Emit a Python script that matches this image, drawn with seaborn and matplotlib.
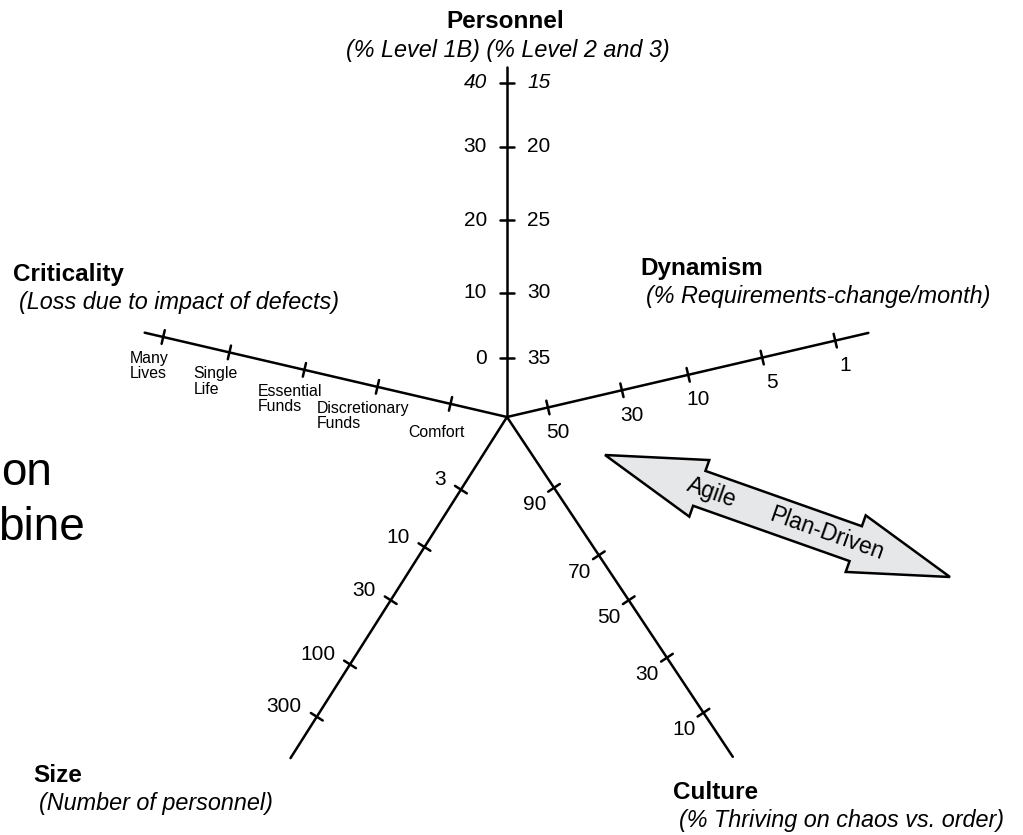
"""Agile vs plan-driven home grounds: five-axis polar chart."""

import numpy as np
import pandas as pd
import matplotlib.pyplot as plt
import seaborn as sns


# ---- chart data -------------------------------------------------------------
personnel_1b = ["40", "30", "20", "10", "0"]
personnel_23 = ["15", "20", "25", "30", "35"]
personnel_pos = [334, 270, 197, 124, 59]

dynamism_ticks = ["1", "5", "10", "30", "50"]
dynamism_pos = [337, 262, 186, 118, 42]

criticality_ticks = ["Many\nLives", "Single\nLife", "Essential\nFunds", "Discretionary\nFunds", "Comfort"]
criticality_pos = [353, 285, 208, 133, 58]

size_ticks = ["3", "10", "30", "100", "300"]
size_pos = [86, 154, 217, 293, 355]

culture_ticks = ["90", "70", "50", "30", "10"]
culture_pos = [85, 166, 220, 289, 355]

# ---- layout (pixels, origin top-left) ---------------------------------------
W, H = 1023, 835
CENTER = np.array([507.0, 417.0])
FONT = "Liberation Sans"

# angle (deg, counter-clockwise from east) and drawn length of each axis
axes_geom = {
    "Personnel": (90.0, 350),
    "Dynamism": (13.1, 371),
    "Criticality": (166.9, 372),
    "Size": (237.6, 404),
    "Culture": (303.6, 408),
}


def along(name, r):
    ang = np.deg2rad(axes_geom[name][0])
    return CENTER + r * np.array([np.cos(ang), -np.sin(ang)])


def build_segments():
    rows = []
    seg = 0
    tick_sets = {
        "Personnel": personnel_pos,
        "Dynamism": dynamism_pos,
        "Criticality": criticality_pos,
        "Size": size_pos,
        "Culture": culture_pos,
    }
    for name, (angle, length) in axes_geom.items():
        end = along(name, length)
        rows += [(seg, CENTER[0], CENTER[1]), (seg, end[0], end[1])]
        seg += 1
        ang = np.deg2rad(angle)
        perp = 7 * np.array([np.sin(ang), np.cos(ang)])
        for r in tick_sets[name]:
            p = along(name, r)
            rows += [(seg, *(p - perp)), (seg, *(p + perp))]
            seg += 1
    return pd.DataFrame(rows, columns=["seg", "x", "y"])


def double_arrow(start, end, shaft_hw, head_hw, head_len):
    p0, p1 = np.array(start, float), np.array(end, float)
    u = (p1 - p0) / np.linalg.norm(p1 - p0)
    n = np.array([-u[1], u[0]])
    a, b = p0 + u * head_len, p1 - u * head_len
    return np.array([
        p0, a + n * head_hw, a + n * shaft_hw, b + n * shaft_hw, b + n * head_hw,
        p1, b - n * head_hw, b - n * shaft_hw, a - n * shaft_hw, a - n * head_hw,
    ])


def main() -> None:
    sns.set_theme(style="white")
    plt.rcParams["font.family"] = [FONT, "DejaVu Sans"]
    plt.rcParams["text.color"] = "black"

    fig = plt.figure(figsize=(W / 100, H / 100), dpi=100)
    ax = fig.add_axes([0, 0, 1, 1])
    ax.set_xlim(0, W)
    ax.set_ylim(H, 0)
    ax.axis("off")

    segs = build_segments()
    sns.lineplot(data=segs, x="x", y="y", units="seg", estimator=None, sort=False,
                 color="black", linewidth=1.8, legend=False, ax=ax)

    # personnel: two scales either side of the vertical axis
    for i, (left, right, r) in enumerate(zip(personnel_1b, personnel_23, personnel_pos)):
        p = along("Personnel", r)
        style = "italic" if i == 0 else "normal"
        ax.text(p[0] - 20, p[1], left, ha="right", va="center", fontsize=15, fontstyle=style)
        ax.text(p[0] + 20, p[1], right, ha="left", va="center", fontsize=15, fontstyle=style)

    for lab, r in zip(dynamism_ticks, dynamism_pos):
        p = along("Dynamism", r)
        ax.text(p[0] + 10, p[1] + 25, lab, ha="center", va="center", fontsize=15)

    for lab, r in zip(criticality_ticks, criticality_pos):
        p = along("Criticality", r)
        ax.text(p[0] - 14, p[1] + 29, lab, ha="center", va="center", fontsize=11.4,
                multialignment="left", linespacing=1.05)

    for lab, r in zip(size_ticks, size_pos):
        p = along("Size", r)
        ax.text(p[0] - 15, p[1] - 10, lab, ha="right", va="center", fontsize=15)

    for lab, r in zip(culture_ticks, culture_pos):
        p = along("Culture", r)
        ax.text(p[0] - 8, p[1] + 17, lab, ha="right", va="center", fontsize=15)

    # axis titles
    ax.text(505, 28, "Personnel", ha="center", va="baseline", fontsize=17.5, fontweight="bold")
    ax.text(508, 57, "(% Level 1B) (% Level 2 and 3)", ha="center", va="baseline",
            fontsize=16.8, fontstyle="italic")
    titles = [
        ("Criticality", "(Loss due to impact of defects)", 13, 281),
        ("Dynamism", "(% Requirements-change/month)", 640, 275),
        ("Size", "(Number of personnel)", 33, 782),
        ("Culture", "(% Thriving on chaos vs. order)", 673, 799),
    ]
    for name, sub, x, y in titles:
        ax.text(x, y, name, ha="left", va="baseline", fontsize=17.5, fontweight="bold")
        ax.text(x + 6, y + 28, sub, ha="left", va="baseline", fontsize=16.8, fontstyle="italic")

    # agile / plan-driven arrow
    start, end = (605, 455), (950, 577)
    poly = double_arrow(start, end, shaft_hw=18.5, head_hw=30, head_len=100)
    ax.fill(poly[:, 0], poly[:, 1], facecolor="#e6e7e8", edgecolor="black", linewidth=1.8)
    u = (np.array(end) - np.array(start)) / np.linalg.norm(np.array(end) - np.array(start))
    angle = -np.degrees(np.arctan2(u[1], u[0]))
    for word, dist in [("Agile", 113), ("Plan-Driven", 235)]:
        p = np.array(start) + u * dist
        ax.text(p[0], p[1], word, ha="center", va="center", rotation=angle,
                rotation_mode="anchor", fontsize=16.5)

    # slide text left over at the left edge
    ax.text(1, 485, "on", ha="left", va="baseline", fontsize=33)
    ax.text(85, 540, "bine", ha="right", va="baseline", fontsize=33)

    fig.savefig("out.png", dpi=100)
    plt.close(fig)


if __name__ == "__main__":
    main()
